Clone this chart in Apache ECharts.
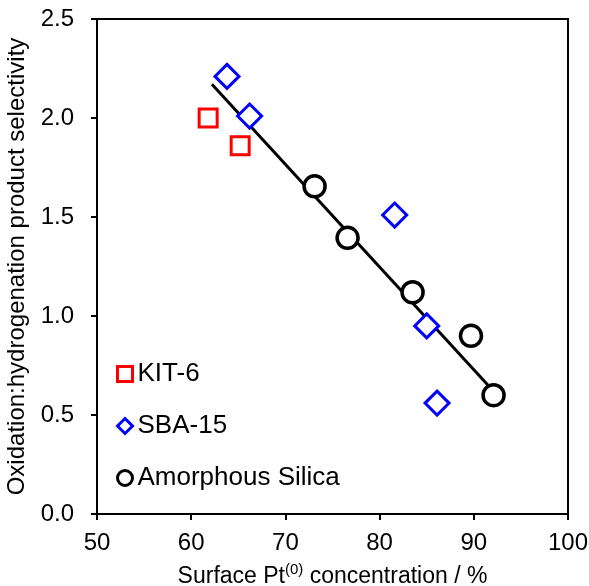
<!DOCTYPE html>
<html><head><meta charset="utf-8">
<script src="https://cdn.jsdelivr.net/npm/echarts@6/dist/echarts.min.js"></script>
<style>html,body{margin:0;padding:0;background:#fff}#c{width:589px;height:586px}</style>
</head><body><div id="c"></div>
<script>
var kit6 = [[61.8, 2.00], [65.2, 1.86]];
var sba15 = [[63.8, 2.21], [66.2, 2.01], [81.6, 1.51], [85.0, 0.95], [86.1, 0.56]];
var amorphous = [[73.1, 1.655], [76.6, 1.395], [83.5, 1.12], [89.7, 0.90], [92.1, 0.60]];
var trend = [[62.2, 2.17], [92.1, 0.62]];
var xTicks = [50, 60, 70, 80, 90, 100];
var yTicks = [0.0, 0.5, 1.0, 1.5, 2.0, 2.5];

var F = 'Liberation Sans, Arial, sans-serif';
var chart = echarts.init(document.getElementById('c'), null, {renderer: 'canvas'});
chart.setOption({
  animation: false,
  backgroundColor: '#fff',
  grid: {left: 97, right: 21, top: 19, bottom: 72, containLabel: false, outerBoundsMode: 'none',
    show: true, borderColor: '#000', borderWidth: 2, backgroundColor: 'transparent'},
  xAxis: {
    type: 'value', min: xTicks[0], max: xTicks[xTicks.length - 1], interval: 10,
    axisLine: {lineStyle: {color: '#000', width: 2}},
    axisTick: {show: true, length: 6, lineStyle: {color: '#000', width: 2}},
    splitLine: {show: false},
    axisLabel: {color: '#000', fontSize: 24, fontFamily: F, margin: 17},
    name: '{n|Surface Pt}{s|(0)}{n| concentration / %}',
    nameLocation: 'middle', nameGap: 48,
    nameTextStyle: {rich: {
      n: {fontSize: 23, fontFamily: F, color: '#000', lineHeight: 26, verticalAlign: 'bottom'},
      s: {fontSize: 15, fontFamily: F, color: '#000', lineHeight: 26, verticalAlign: 'top', padding: [0, 0, 10, 0]}
    }}
  },
  yAxis: {
    type: 'value', min: yTicks[0], max: yTicks[yTicks.length - 1], interval: 0.5,
    axisLine: {lineStyle: {color: '#000', width: 2}},
    axisTick: {show: true, length: 6, lineStyle: {color: '#000', width: 2}},
    splitLine: {show: false},
    axisLabel: {color: '#000', fontSize: 24, fontFamily: F, margin: 23, formatter: function (v) { return v.toFixed(1); }},
    name: 'Oxidation:hydrogenation product selectivity',
    nameLocation: 'middle', nameGap: 66,
    nameTextStyle: {color: '#000', fontSize: 24, fontFamily: F}
  },
  legend: {
    orient: 'vertical', left: 111, top: 356, itemGap: 26, itemWidth: 15, itemHeight: 15,
    itemStyle: {borderWidth: 3},
    textStyle: {color: '#000', fontSize: 26, fontFamily: F},
    data: ['KIT-6', 'SBA-15', 'Amorphous Silica']
  },
  series: [
    {name: 'trend', type: 'line', data: trend, symbol: 'none', lineStyle: {color: '#000', width: 3}, z: 1},
    {name: 'KIT-6', type: 'scatter', data: kit6, symbol: 'rect', symbolSize: 18,
      itemStyle: {color: '#fff', borderColor: '#ff0000', borderWidth: 3, opacity: 1}, z: 3},
    {name: 'SBA-15', type: 'scatter', data: sba15, symbol: 'diamond', symbolSize: 24,
      itemStyle: {color: '#fff', borderColor: '#0000ff', borderWidth: 3, opacity: 1}, z: 3},
    {name: 'Amorphous Silica', type: 'scatter', data: amorphous, symbol: 'circle', symbolSize: 21,
      itemStyle: {color: '#fff', borderColor: '#000', borderWidth: 3.5, opacity: 1}, z: 2}
  ]
});
</script></body></html>
